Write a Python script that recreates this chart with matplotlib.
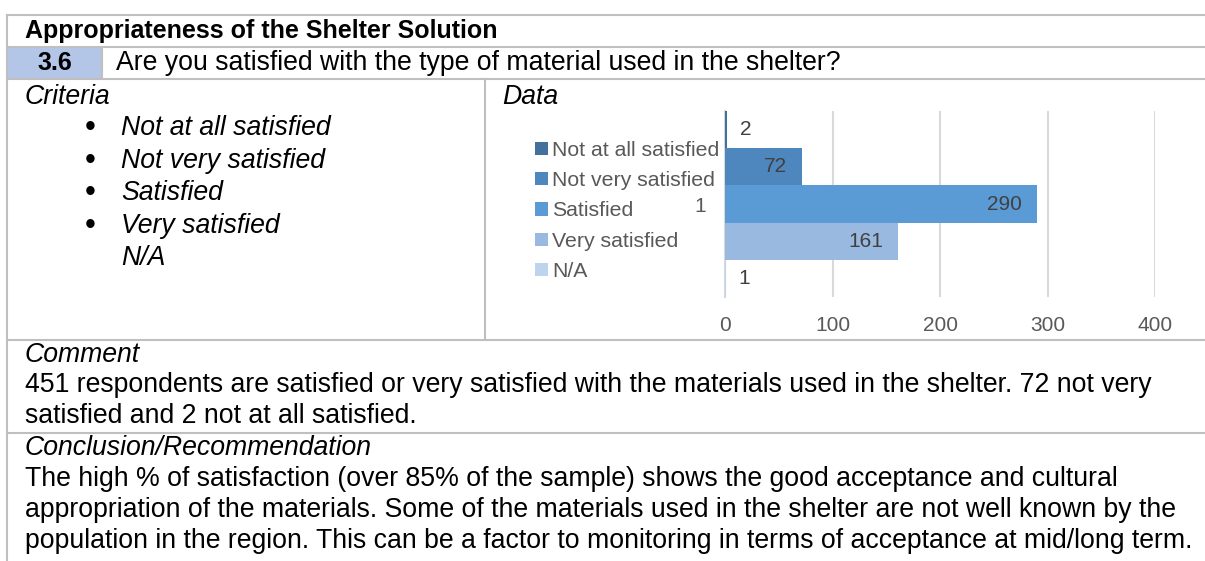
import matplotlib.pyplot as plt

plt.rcParams['font.family'] = ['Liberation Sans', 'DejaVu Sans']

# Survey answers for question 3.6
categories = ['Not at all satisfied', 'Not very satisfied', 'Satisfied', 'Very satisfied', 'N/A']
counts = [2, 72, 290, 161, 1]
colors = ['#41719c', '#4e87be', '#5b9bd5', '#9ab9e0', '#bdd3ee']
x_ticks = [0, 100, 200, 300, 400]

section_title = 'Appropriateness of the Shelter Solution'
question_no = '3.6'
question = 'Are you satisfied with the type of material used in the shelter?'
comment_lines = [
    '451 respondents are satisfied or very satisfied with the materials used in the shelter. 72 not very',
    'satisfied and 2 not at all satisfied.',
]
conclusion_lines = [
    'The high % of satisfaction (over 85% of the sample) shows the good acceptance and cultural',
    'appropriation of the materials. Some of the materials used in the shelter are not well known by the',
    'population in the region. This can be a factor to monitoring in terms of acceptance at mid/long term.',
]

W, H = 1205, 561
fig = plt.figure(figsize=(W / 100, H / 100), dpi=100)

# page layer in pixel coordinates for the table
bg = fig.add_axes([0, 0, 1, 1])
bg.set_xlim(0, W)
bg.set_ylim(H, 0)
bg.axis('off')

line_kw = dict(color='#bfbfbf', lw=1.5)
bg.add_patch(plt.Rectangle((8, 48), 93, 31, color='#b4c6e7', lw=0))
for y in [15, 47, 79, 340, 433]:
    bg.plot([7, W], [y, y], **line_kw)
bg.plot([7, 7], [15, H], **line_kw)
bg.plot([102, 102], [47, 79], **line_kw)
bg.plot([485, 485], [79, 340], **line_kw)

fs_bold = 18
fs = 19.2
bg.text(25, 31, section_title, fontsize=fs_bold, fontweight='bold', va='center')
bg.text(55, 63, question_no, fontsize=fs_bold, fontweight='bold', va='center', ha='center')
bg.text(116, 63, question, fontsize=fs, va='center')
bg.text(25, 97, 'Criteria', fontsize=fs, style='italic', va='center')
bg.text(502, 97, 'Data', fontsize=fs, style='italic', va='center')

for i, c in enumerate(categories):
    y = 128 + i * 32.5
    if c != 'N/A':
        bg.text(90, y, '\u2022', fontsize=fs + 3, va='center', ha='center')
    bg.text(121, y, c, fontsize=fs, style='italic', va='center')

bg.text(25, 355, 'Comment', fontsize=fs, style='italic', va='center')
for i, t in enumerate(comment_lines):
    bg.text(25, 385 + i * 31, t, fontsize=fs, va='center')
bg.text(25, 448, 'Conclusion/Recommendation', fontsize=fs, style='italic', va='center')
for i, t in enumerate(conclusion_lines):
    bg.text(25, 479 + i * 31, t, fontsize=fs, va='center')

# bar chart in the Data cell
ax = fig.add_axes([725 / W, 1 - 297 / H, 430 / W, 186 / H])
n = len(counts)
bh = 1.0 / n
ypos = [0.5 - bh / 2 - i * bh for i in range(n)]
bars = []
for yp, v, col, lab in zip(ypos, counts, colors, categories):
    b = ax.barh(yp, v, height=bh, color=col, label=lab, zorder=3)
    bars.append(b)
    if v < 20:
        ax.annotate(str(v), (v, yp), xytext=(9, 0), textcoords='offset points',
                    ha='left', va='center', fontsize=15, color='#404040')
    else:
        ax.annotate(str(v), (v, yp), xytext=(-11, 0), textcoords='offset points',
                    ha='right', va='center', fontsize=15, color='#404040')

ax.set_xlim(0, 400)
ax.set_ylim(-0.5, 0.5)
ax.set_xticks(x_ticks)
ax.set_yticks([0])
ax.set_yticklabels(['1'])
ax.tick_params(axis='both', length=0, labelsize=15, labelcolor='#595959')
ax.tick_params(axis='x', pad=14)
ax.tick_params(axis='y', pad=14)
ax.grid(axis='x', color='#d9d9d9', lw=1.5, zorder=0)
for s in ['top', 'right', 'bottom']:
    ax.spines[s].set_visible(False)
ax.spines['left'].set_color('#d9d9d9')
ax.spines['left'].set_linewidth(1.5)
ax.set_facecolor('none')

fig.legend(handles=bars, labels=categories, loc='center left',
           bbox_to_anchor=(535 / W, 1 - 211 / H), frameon=False,
           fontsize=15.3, labelcolor='#595959', handlelength=0.6, handleheight=0.6,
           handletextpad=0.2, labelspacing=0.53, borderpad=0, borderaxespad=0)

fig.savefig('out.png', dpi=100)
